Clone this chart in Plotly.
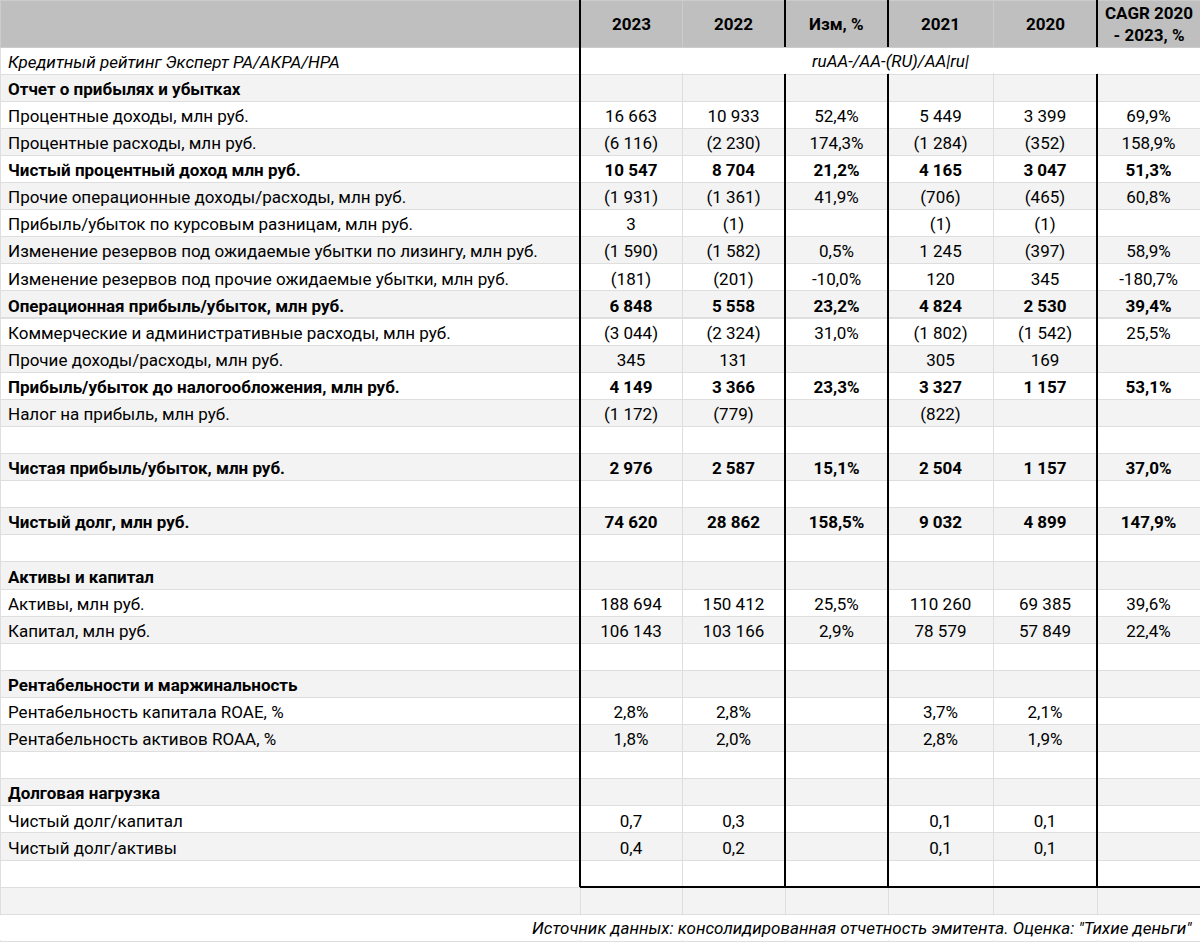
import plotly.graph_objects as go

# ---------------- data ----------------
header_cols = ["", "2023", "2022", "Изм, %", "2021", "2020", "CAGR 2020<br>- 2023, %"]

labels = [
    "Кредитный рейтинг Эксперт РА/АКРА/НРА",
    "Отчет о прибылях и убытках",
    "Процентные доходы, млн руб.",
    "Процентные расходы, млн руб.",
    "Чистый процентный доход млн руб.",
    "Прочие операционные доходы/расходы, млн руб.",
    "Прибыль/убыток по курсовым разницам, млн руб.",
    "Изменение резервов под ожидаемые убытки по лизингу, млн руб.",
    "Изменение резервов под прочие ожидаемые убытки, млн руб.",
    "Операционная прибыль/убыток, млн руб.",
    "Коммерческие и административные расходы, млн руб.",
    "Прочие доходы/расходы, млн руб.",
    "Прибыль/убыток до налогообложения, млн руб.",
    "Налог на прибыль, млн руб.",
    "",
    "Чистая прибыль/убыток, млн руб.",
    "",
    "Чистый долг, млн руб.",
    "",
    "Активы и капитал",
    "Активы, млн руб.",
    "Капитал, млн руб.",
    "",
    "Рентабельности и маржинальность",
    "Рентабельность капитала ROAE, %",
    "Рентабельность активов ROAA, %",
    "",
    "Долговая нагрузка",
    "Чистый долг/капитал",
    "Чистый долг/активы",
    "",
    "",
    "",
]

v2023 = ["", "", "16 663", "(6 116)", "10 547", "(1 931)", "3", "(1 590)", "(181)", "6 848",
         "(3 044)", "345", "4 149", "(1 172)", "", "2 976", "", "74 620", "", "",
         "188 694", "106 143", "", "", "2,8%", "1,8%", "", "", "0,7", "0,4", "", "", ""]
v2022 = ["", "", "10 933", "(2 230)", "8 704", "(1 361)", "(1)", "(1 582)", "(201)", "5 558",
         "(2 324)", "131", "3 366", "(779)", "", "2 587", "", "28 862", "", "",
         "150 412", "103 166", "", "", "2,8%", "2,0%", "", "", "0,3", "0,2", "", "", ""]
chg = ["", "", "52,4%", "174,3%", "21,2%", "41,9%", "", "0,5%", "-10,0%", "23,2%",
       "31,0%", "", "23,3%", "", "", "15,1%", "", "158,5%", "", "",
       "25,5%", "2,9%", "", "", "", "", "", "", "", "", "", "", ""]
v2021 = ["", "", "5 449", "(1 284)", "4 165", "(706)", "(1)", "1 245", "120", "4 824",
         "(1 802)", "305", "3 327", "(822)", "", "2 504", "", "9 032", "", "",
         "110 260", "78 579", "", "", "3,7%", "2,8%", "", "", "0,1", "0,1", "", "", ""]
v2020 = ["", "", "3 399", "(352)", "3 047", "(465)", "(1)", "(397)", "345", "2 530",
         "(1 542)", "169", "1 157", "", "", "1 157", "", "4 899", "", "",
         "69 385", "57 849", "", "", "2,1%", "1,9%", "", "", "0,1", "0,1", "", "", ""]
cagr = ["", "", "69,9%", "158,9%", "51,3%", "60,8%", "", "58,9%", "-180,7%", "39,4%",
        "25,5%", "", "53,1%", "", "", "37,0%", "", "147,9%", "", "",
        "39,6%", "22,4%", "", "", "", "", "", "", "", "", "", "", ""]

bold_rows = [1, 4, 9, 12, 15, 17, 19, 23, 27]
italic_rows = [0]

rating_text = "ruAA-/AA-(RU)/AA|ru|"
source_text = "Источник данных: консолидированная отчетность эмитента. Оценка: \"Тихие деньги\""

# ---------------- layout constants ----------------
W, H = 1200, 943
col_widths = [580, 102, 103, 103, 105, 104, 103]
HEADER_H = 47
ROW_H = 27.1
FONT = "Roboto"
FS = 17

n_rows = len(labels)
columns = [labels, v2023, v2022, chg, v2021, v2020, cagr]

weights = [["bold" if r in bold_rows else "normal" for r in range(n_rows)] for _ in columns]
styles = [["italic" if r in italic_rows else "normal" for r in range(n_rows)] for _ in columns]
row_fill = ["#ffffff" if r % 2 == 0 else "#f3f3f3" for r in range(n_rows)]
fills = [row_fill for _ in columns]

fig = go.Figure(go.Table(
    columnwidth=col_widths,
    header=dict(
        values=["" for _ in header_cols],
        fill_color="#bfbfbf",
        line=dict(color="#cccccc", width=1),
        height=HEADER_H,
    ),
    cells=dict(
        values=columns,
        fill_color=fills,
        line=dict(color="#dedede", width=1),
        align=["left"] + ["center"] * 6,
        font=dict(family=FONT, size=FS, color="#000000", weight="normal", style="normal"),
        height=ROW_H,
    ),
    domain=dict(x=[0, 1], y=[0, 1]),
))
# per-cell font weight / style (plotly.js accepts 2-D arrays here)
fig._data[0]["cells"]["font"]["weight"] = weights
fig._data[0]["cells"]["font"]["style"] = styles

# pixel helpers (paper coordinates)
def px(x):
    return x / W

def py(y):
    return 1 - y / H

col_edges = [0]
for w in col_widths:
    col_edges.append(col_edges[-1] + w)

def row_top(r):
    return HEADER_H + r * ROW_H

shapes = []
shapes.append(dict(type="rect", xref="paper", yref="paper", layer="above",
                   x0=px(col_edges[1] + 1), x1=px(W), y0=py(row_top(0) + 1), y1=py(row_top(1) - 1),
                   fillcolor="#ffffff", line=dict(width=0)))
shapes.append(dict(type="rect", xref="paper", yref="paper", layer="above",
                   x0=px(0), x1=px(W), y0=py(row_top(n_rows - 1) + 1), y1=py(row_top(n_rows) - 1),
                   fillcolor="#ffffff", line=dict(width=0)))

box_bottom = row_top(31)
black = dict(color="#000000", width=2)
shapes.append(dict(type="line", xref="paper", yref="paper", layer="above",
                   x0=px(col_edges[1]), x1=px(col_edges[1]), y0=py(0), y1=py(box_bottom), line=black))
for ci in (3, 4, 6):
    x = px(col_edges[ci])
    shapes.append(dict(type="line", xref="paper", yref="paper", layer="above",
                       x0=x, x1=x, y0=py(0), y1=py(HEADER_H), line=black))
    shapes.append(dict(type="line", xref="paper", yref="paper", layer="above",
                       x0=x, x1=x, y0=py(row_top(1)), y1=py(box_bottom), line=black))
shapes.append(dict(type="line", xref="paper", yref="paper", layer="above",
                   x0=px(col_edges[1]), x1=px(W), y0=py(box_bottom), y1=py(box_bottom), line=black))

annotations = []
for ci, h in enumerate(header_cols):
    if not h:
        continue
    annotations.append(dict(
        text="<b>" + h + "</b>", xref="paper", yref="paper",
        x=px((col_edges[ci] + col_edges[ci + 1]) / 2), y=py(HEADER_H / 2),
        xanchor="center", yanchor="middle", showarrow=False, align="center",
        font=dict(family=FONT, size=FS, color="#000000")))

annotations.append(dict(
    text="<i>" + rating_text + "</i>", xref="paper", yref="paper",
    x=px((col_edges[1] + W) / 2), y=py(row_top(0) + ROW_H / 2),
    xanchor="center", yanchor="middle", showarrow=False,
    font=dict(family=FONT, size=FS, color="#000000")))
annotations.append(dict(
    text="<i>" + source_text + "</i>", xref="paper", yref="paper",
    x=px(W - 6), y=py(row_top(n_rows - 1) + ROW_H / 2),
    xanchor="right", yanchor="middle", showarrow=False,
    font=dict(family=FONT, size=FS, color="#000000")))

fig.update_layout(
    width=W, height=H,
    margin=dict(l=0, r=0, t=0, b=0),
    paper_bgcolor="#ffffff",
    shapes=shapes,
    annotations=annotations,
)

fig.write_html("out.html", config={"displayModeBar": False},
               post_script="document.body.style.margin='0';")
